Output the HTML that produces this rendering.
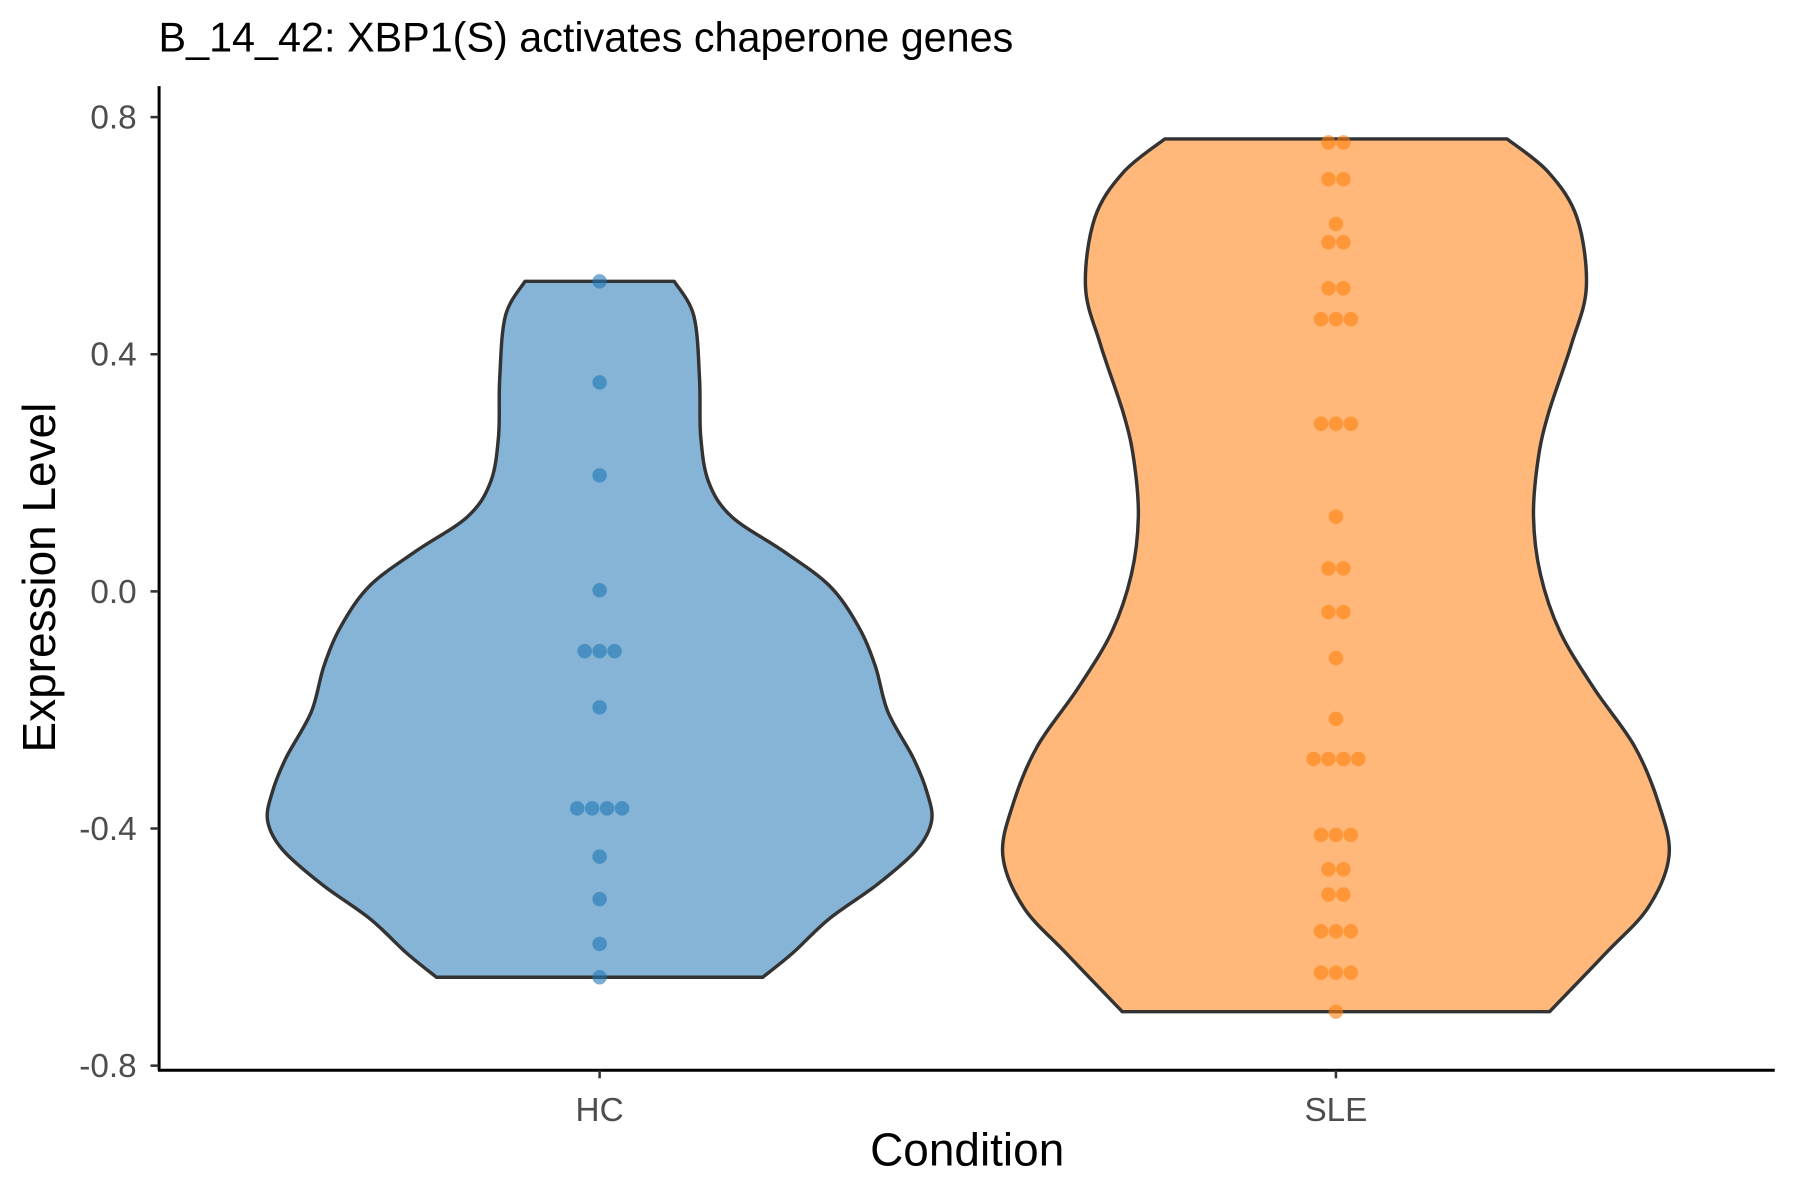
<!DOCTYPE html>
<html><head><meta charset="utf-8"><style>
html,body{margin:0;padding:0;background:#fff;}
svg{display:block;}
text{font-family:"Liberation Sans",Arial,sans-serif;}
</style></head><body>
<svg id="s" width="1800" height="1200" viewBox="0 0 1567 1045" preserveAspectRatio="none" xmlns="http://www.w3.org/2000/svg">
<rect width="1567" height="1045" fill="#fff"/>
<g id="v"></g>
<g id="d"></g>
<line x1="138.5" y1="75" x2="138.5" y2="932" stroke="#000" stroke-width="2.6"/>
<line x1="137.5" y1="932" x2="1545" y2="932" stroke="#000" stroke-width="2.6"/>
<g stroke="#333" stroke-width="2.2">
<line x1="131" y1="102" x2="138" y2="102"/><line x1="131" y1="308.5" x2="138" y2="308.5"/>
<line x1="131" y1="515" x2="138" y2="515"/><line x1="131" y1="721.5" x2="138" y2="721.5"/>
<line x1="131" y1="928" x2="138" y2="928"/>
<line x1="522" y1="932" x2="522" y2="939"/><line x1="1163" y1="932" x2="1163" y2="939"/>
</g>
<g fill="#4d4d4d" font-size="29" text-anchor="end">
<text x="119" y="112">0.8</text><text x="119" y="318.5">0.4</text><text x="119" y="525">0.0</text>
<text x="119" y="731.5">-0.4</text><text x="119" y="938">-0.8</text>
</g>
<g fill="#4d4d4d" font-size="29" text-anchor="middle">
<text x="522" y="976">HC</text><text x="1163" y="976">SLE</text>
</g>
<text x="842" y="1015" font-size="40" text-anchor="middle" fill="#000">Condition</text>
<text transform="translate(48,503) rotate(-90)" font-size="40" text-anchor="middle" fill="#000">Expression Level</text>
<text x="138" y="45" font-size="36" fill="#000">B_14_42: XBP1(S) activates chaperone genes</text>
</svg>
<script>
function violin(cx,pts,fill){
  var right=pts.map(p=>[cx+p[1],p[0]]);
  var left=pts.slice().reverse().map(p=>[cx-p[1],p[0]]);
  function cr(a){
    var s="";
    for(var i=0;i<a.length-1;i++){
      var p0=a[Math.max(0,i-1)],p1=a[i],p2=a[i+1],p3=a[Math.min(a.length-1,i+2)];
      var c1=[p1[0]+(p2[0]-p0[0])/6,p1[1]+(p2[1]-p0[1])/6];
      var c2=[p2[0]-(p3[0]-p1[0])/6,p2[1]-(p3[1]-p1[1])/6];
      s+=" C"+c1+" "+c2+" "+p2;
    }
    return s;
  }
  var d="M"+left[left.length-1]+" L"+right[0]+cr(right)+" L"+left[0]+cr(left)+" Z";
  return '<path d="'+d+'" fill="'+fill+'" stroke="#333" stroke-width="3" stroke-linejoin="round"/>';
}
var hc=[[245,65],[275,82],[330,87],[380,88],[420,95],[450,115],[480,160],[510,200],[545,225],[580,240],[620,251],[660,273],[690,285],[715,289],[740,276],[770,242],[800,200],[830,168],[851,142]];
var sle=[[121,149],[150,185],[190,210],[250,218],[300,205],[360,185],[400,176],[450,172],[500,178],[550,195],[600,225],[650,260],[700,281],[745,290],[790,272],[830,235],[881,186]];
document.getElementById('v').innerHTML=violin(522,hc,'#86b4d6')+violin(1163,sle,'#ffb879');
function dots(cx,list,col){
  var s="";
  list.forEach(function(e){
    var y=e[0],n=e[1];
    for(var i=0;i<n;i++){var x=cx+(i-(n-1)/2)*13;
      s+='<circle cx="'+x+'" cy="'+y+'" r="6.3" fill="'+col+'" fill-opacity="0.6"/>';}
  });
  return s;
}
var hcd=[[245,1],[333,1],[414,1],[514,1],[567,3],[616,1],[704,4],[746,1],[783,1],[822,1],[851,1]];
var sled=[[124,2],[156,2],[195,1],[211,2],[251,2],[278,3],[369,3],[450,1],[495,2],[533,2],[573,1],[626,1],[661,4],[727,3],[757,2],[779,2],[811,3],[847,3],[881,1]];
document.getElementById('d').innerHTML=dots(522,hcd,'#1f77b4')+dots(1163,sled,'#ff7f0e');
</script>
</body></html>
